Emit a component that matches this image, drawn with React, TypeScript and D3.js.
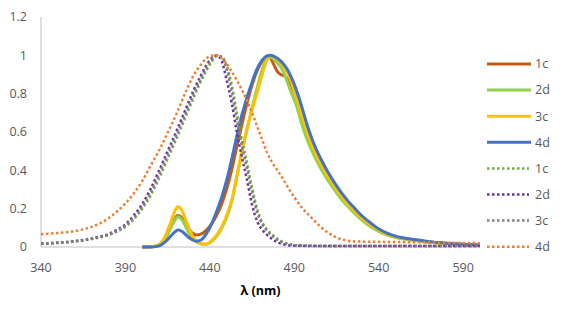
import React from "react";
import * as d3 from "d3";

// ---- data ----
const emX = [400,404,408,411,414,416,418,420,421,422,424,426,428,430,432,435,438,441,444,447,450,453,456,459,462,465,468,471,474,476,478,480,482,484,486,488,491,494,497,500,503,506,510,514,518,522,526,530,535,540,545,550,555,560,570,580,590,600];

const em1c = [0,0,0.004,0.016,0.052,0.088,0.125,0.157,0.165,0.163,0.145,0.115,0.088,0.07,0.063,0.068,0.088,0.12,0.165,0.225,0.305,0.405,0.525,0.64,0.75,0.845,0.92,0.97,0.997,0.985,0.95,0.915,0.9,0.893,0.875,0.845,0.785,0.7,0.615,0.54,0.48,0.43,0.367,0.313,0.265,0.222,0.185,0.15,0.116,0.088,0.067,0.053,0.045,0.038,0.026,0.019,0.013,0.0095];
const em2d = [0,0,0.004,0.015,0.05,0.085,0.12,0.15,0.158,0.155,0.135,0.1,0.066,0.042,0.027,0.016,0.014,0.028,0.056,0.098,0.155,0.24,0.365,0.495,0.615,0.725,0.83,0.925,0.99,0.99,0.978,0.96,0.94,0.905,0.86,0.81,0.745,0.655,0.575,0.51,0.455,0.405,0.347,0.295,0.248,0.209,0.172,0.14,0.107,0.081,0.062,0.05,0.042,0.036,0.025,0.018,0.012,0.009];
const em3c = [0,0,0.005,0.02,0.065,0.11,0.16,0.2,0.21,0.207,0.18,0.135,0.09,0.055,0.033,0.018,0.016,0.033,0.062,0.105,0.165,0.245,0.37,0.5,0.615,0.715,0.805,0.9,0.98,1.0,0.99,0.978,0.96,0.938,0.908,0.865,0.785,0.7,0.615,0.54,0.48,0.43,0.367,0.313,0.265,0.222,0.185,0.15,0.116,0.088,0.067,0.053,0.045,0.038,0.026,0.019,0.013,0.0095];
const em4d = [0,0,0.002,0.01,0.03,0.048,0.068,0.084,0.089,0.088,0.078,0.062,0.047,0.036,0.03,0.038,0.07,0.12,0.185,0.26,0.35,0.46,0.58,0.69,0.78,0.86,0.93,0.975,0.997,1.0,0.995,0.985,0.97,0.95,0.925,0.89,0.825,0.745,0.655,0.575,0.51,0.455,0.39,0.333,0.282,0.238,0.2,0.163,0.127,0.095,0.072,0.057,0.047,0.04,0.028,0.02,0.014,0.01];

const absX = [340,345,350,355,360,365,370,375,380,385,390,395,400,405,410,415,420,425,430,435,438,441,444,447,450,453,456,459,462,465,468,471,474,477,480,483,486,490,495,500,505,510,515,520,525,530,540,550,560,570,580,590,600];

const abs1c = [0.016,0.018,0.021,0.024,0.029,0.034,0.041,0.05,0.062,0.08,0.106,0.145,0.2,0.27,0.36,0.46,0.56,0.665,0.77,0.87,0.92,0.965,0.995,0.995,0.945,0.845,0.7,0.56,0.44,0.31,0.2,0.13,0.09,0.065,0.043,0.028,0.018,0.011,0.008,0.006,0.006,0.005,0.005,0.005,0.005,0.005,0.005,0.005,0.005,0.005,0.005,0.005,0.005];
const abs2d = [0.018,0.02,0.023,0.026,0.031,0.037,0.045,0.055,0.068,0.09,0.118,0.165,0.225,0.305,0.4,0.5,0.6,0.705,0.81,0.9,0.95,0.985,1.0,0.97,0.87,0.75,0.6,0.47,0.35,0.22,0.135,0.09,0.062,0.04,0.025,0.015,0.01,0.007,0.006,0.005,0.005,0.005,0.005,0.005,0.005,0.005,0.005,0.005,0.005,0.005,0.005,0.005,0.005];
const abs3c = [0.017,0.019,0.022,0.025,0.03,0.035,0.043,0.052,0.065,0.085,0.112,0.155,0.21,0.285,0.38,0.48,0.58,0.685,0.79,0.885,0.935,0.975,0.998,0.99,0.925,0.81,0.665,0.525,0.41,0.285,0.18,0.12,0.083,0.058,0.038,0.024,0.015,0.01,0.007,0.006,0.005,0.005,0.005,0.005,0.005,0.005,0.005,0.005,0.005,0.005,0.005,0.005,0.005];
const abs4d = [0.066,0.07,0.073,0.077,0.083,0.092,0.105,0.124,0.15,0.185,0.228,0.28,0.345,0.425,0.505,0.595,0.69,0.795,0.89,0.955,0.985,0.998,1.0,0.985,0.955,0.915,0.87,0.82,0.765,0.7,0.63,0.56,0.49,0.44,0.4,0.36,0.315,0.26,0.2,0.155,0.11,0.075,0.05,0.036,0.03,0.028,0.027,0.026,0.025,0.024,0.022,0.021,0.02];

const seriesNames = ["1c", "2d", "3c", "4d", "1c", "2d", "3c", "4d"];
const xTicks = [340, 390, 440, 490, 540, 590];
const yTicks = [0, 0.2, 0.4, 0.6, 0.8, 1, 1.2];
const xTitle = "λ (nm)";

const series = [
  { name: seriesNames[0], xs: emX, ys: em1c, color: "#C55A11", dotted: false },
  { name: seriesNames[1], xs: emX, ys: em2d, color: "#92D050", dotted: false },
  { name: seriesNames[2], xs: emX, ys: em3c, color: "#FFC000", dotted: false },
  { name: seriesNames[3], xs: emX, ys: em4d, color: "#4472C4", dotted: false },
  { name: seriesNames[4], xs: absX, ys: abs1c, color: "#70AD47", dotted: true },
  { name: seriesNames[5], xs: absX, ys: abs2d, color: "#7030A0", dotted: true },
  { name: seriesNames[6], xs: absX, ys: abs3c, color: "#7F7F7F", dotted: true },
  { name: seriesNames[7], xs: absX, ys: abs4d, color: "#ED7D31", dotted: true },
];

const W = 565;
const H = 311;
const FONT = "'Open Sans', 'Liberation Sans', sans-serif";

export default function App() {
  const x = d3.scaleLinear().domain([340, 600]).range([41, 480]);
  const y = d3.scaleLinear().domain([0, 1.2]).range([247, 17]);
  const line = d3
    .line<[number, number]>()
    .x((d) => x(d[0]))
    .y((d) => y(d[1]))
    .curve(d3.curveMonotoneX);

  const legX0 = 487;
  const legY0 = 64;
  const legStep = 26.1;

  return (
    <svg
      width={W}
      height={H}
      style={{ position: "absolute", left: 0, top: 0, background: "#fff" }}
      fontFamily={FONT}
    >
      <rect width={W} height={H} fill="#fff" />
      {/* axes */}
      <line x1={x(340)} x2={x(340)} y1={y(1.2)} y2={y(0)} stroke="#BFBFBF" strokeWidth={1} />
      <line x1={x(340)} x2={x(600)} y1={y(0)} y2={y(0)} stroke="#BFBFBF" strokeWidth={1} />
      {yTicks.map((t) => (
        <text key={"y" + t} x={27} y={y(t)} dy="0.35em" textAnchor="end" fontSize={12.5} fill="#595959">
          {String(t)}
        </text>
      ))}
      {xTicks.map((t) => (
        <text key={"x" + t} x={x(t)} y={268} dy="0.35em" textAnchor="middle" fontSize={12.5} fill="#595959">
          {String(t)}
        </text>
      ))}
      <text x={(x(340) + x(600)) / 2} y={291} dy="0.35em" textAnchor="middle" fontSize={12.5} fontWeight="bold" fill="#000">
        {xTitle}
      </text>
      {/* series */}
      {series.map((s, i) => {
        const pts = s.xs.map((v, j) => [v, s.ys[j]] as [number, number]);
        return (
          <path
            key={"s" + i}
            d={line(pts) || ""}
            fill="none"
            stroke={s.color}
            strokeWidth={s.dotted ? 2.5 : 3}
            strokeDasharray={s.dotted ? "2.5 2.5" : undefined}
            strokeLinejoin="round"
          />
        );
      })}
      {/* legend */}
      {series.map((s, i) => {
        const ly = legY0 + i * legStep;
        return (
          <g key={"l" + i}>
            <line
              x1={legX0}
              x2={s.dotted ? legX0 + 42 : legX0 + 44}
              y1={ly}
              y2={ly}
              stroke={s.color}
              strokeWidth={s.dotted ? 2.5 : 3}
              strokeDasharray={s.dotted ? "2.5 2.5" : undefined}
            />
            <text x={535} y={ly} dy="0.35em" fontSize={12.5} fill="#595959">
              {s.name}
            </text>
          </g>
        );
      })}
    </svg>
  );
}
